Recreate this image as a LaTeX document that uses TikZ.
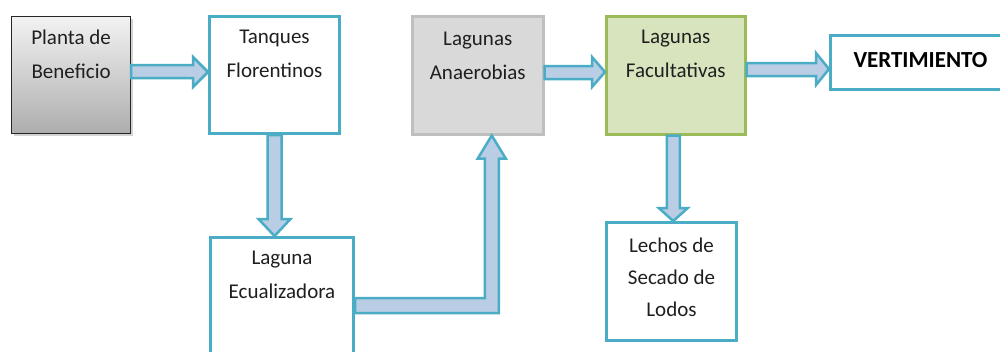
\documentclass[tikz,border=0pt]{standalone}
\usepackage{fontspec}
\setmainfont{Carlito}
\usetikzlibrary{calc,shadows}
\definecolor{aqua}{HTML}{4BACC6}
\definecolor{arrfill}{HTML}{B9CDE5}
\definecolor{gbox}{HTML}{D9D9D9}
\definecolor{gline}{HTML}{BFBFBF}
\definecolor{greenfill}{HTML}{D7E4BD}
\definecolor{greenline}{HTML}{9BBB59}
\begin{document}
\begin{tikzpicture}[x=1pt,y=-1pt,
  box/.style={draw=aqua, line width=3pt, fill=white, rectangle, anchor=north west, inner sep=0pt},
  txt/.style={align=center, font=\fontsize{21}{34}\selectfont, inner sep=0pt, anchor=north, text=black!88},
  arr/.style={draw=aqua, fill=arrfill, line width=2.5pt, line join=miter}]
\useasboundingbox (0,0) rectangle (1000,351);
\clip (0,0) rectangle (1000,351);
% boxes
\node[box, draw=black!85, line width=1.2pt, top color=black!5, bottom color=black!32,
      drop shadow={opacity=0.35, shadow xshift=2pt, shadow yshift=-2pt},
      minimum width=119pt, minimum height=117pt] (pla) at (11,16) {};
\node[box, minimum width=130pt, minimum height=117pt] (tan) at (208,15) {};
\node[box, draw=gline, fill=gbox, line width=2.5pt, minimum width=131pt, minimum height=118pt] (ana) at (411,15) {};
\node[box, draw=greenline, fill=greenfill, line width=2.5pt, minimum width=139pt, minimum height=118pt] (fac) at (605,15) {};
\node[box, minimum width=180pt, minimum height=54pt] (ver) at (829,34) {};
\node[box, minimum width=143pt, minimum height=135pt] (ecu) at (209,236) {};
\node[box, minimum width=130pt, minimum height=118pt] (lec) at (605,221) {};
% texts
\node[txt] (plat) at ($(pla.north)+(0,14)$) {Planta de\\Beneficio};
\node[txt] (tant) at ($(tan.north)+(0,15)$) {Tanques\\Florentinos};
\node[txt] (anat) at ($(ana.north)+(0,17)$) {Lagunas\\Anaerobias};
\node[txt] (fact) at ($(fac.north)+(0,15)$) {Lagunas\\Facultativas};
\node[txt] (ecut) at ($(ecu.north)+(0,15)$) {Laguna\\Ecualizadora};
\node[txt, font=\fontsize{21}{32}\selectfont] (lect) at ($(lec.north)+(0,17)$) {Lechos de\\Secado de\\Lodos};
\node[txt, anchor=base, font=\fontsize{23}{26}\selectfont\bfseries, text=black] (vert) at ($(ver.north)+(0,33)$) {VERTIMIENTO};
% arrows
\draw[arr] (pla.east |- 0,65) -- ($(tan.west |- 0,65)+(-15,0)$) -- ($(tan.west |- 0,57)+(-15,0)$)
  -- (tan.west |- 0,72) -- ($(tan.west |- 0,87)+(-15,0)$) -- ($(tan.west |- 0,78)+(-15,0)$)
  -- (pla.east |- 0,78) -- cycle;
\draw[arr] ($(tan.south)+(-7,0)$) -- ($(tan.south |- ecu.north)+(-7,-17)$) -- ($(tan.south |- ecu.north)+(-16,-17)$)
  -- (tan.south |- ecu.north) -- ($(tan.south |- ecu.north)+(16,-17)$) -- ($(tan.south |- ecu.north)+(7,-17)$)
  -- ($(tan.south)+(7,0)$) -- cycle;
\draw[arr] (ecu.east |- 0,298) -- ($(ana.south |- 0,298)+(7,0)$) -- ($(ana.south)+(7,23)$) -- ($(ana.south)+(0,23)$)
  -- ($(ana.south)+(14,0)$) -- ($(ana.south)+(28,23)$) -- ($(ana.south)+(21,23)$)
  -- ($(ana.south |- 0,313)+(21,0)$) -- (ecu.east |- 0,313) -- cycle;
\draw[arr] (ana.east |- 0,66) -- ($(fac.west |- 0,66)+(-13,0)$) -- ($(fac.west |- 0,57)+(-13,0)$)
  -- (fac.west |- 0,72) -- ($(fac.west |- 0,87)+(-13,0)$) -- ($(fac.west |- 0,79)+(-13,0)$)
  -- (ana.east |- 0,79) -- cycle;
\draw[arr] (fac.east |- 0,63) -- ($(ver.west |- 0,63)+(-13,0)$) -- ($(ver.west |- 0,53)+(-13,0)$)
  -- (ver.west |- 0,69) -- ($(ver.west |- 0,85)+(-13,0)$) -- ($(ver.west |- 0,76)+(-13,0)$)
  -- (fac.east |- 0,76) -- cycle;
\draw[arr] ($(fac.south)+(-9,0)$) -- ($(fac.south |- lec.north)+(-9,-13)$) -- ($(fac.south |- lec.north)+(-17,-13)$)
  -- ($(fac.south |- lec.north)+(-2.5,0)$) -- ($(fac.south |- lec.north)+(12,-13)$) -- ($(fac.south |- lec.north)+(4,-13)$)
  -- ($(fac.south)+(4,0)$) -- cycle;
\end{tikzpicture}
\end{document}
